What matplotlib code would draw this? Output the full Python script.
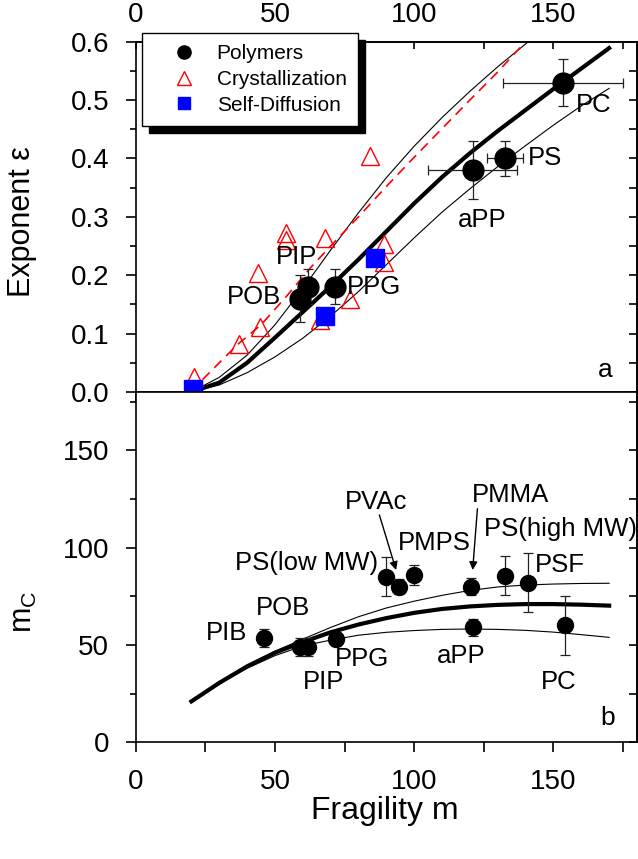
"""Fragility plot: exponent epsilon (a) and m_C (b) vs fragility m"""
import matplotlib
matplotlib.use("Agg")
import matplotlib.pyplot as plt
from matplotlib.lines import Line2D
from matplotlib.patches import Rectangle
from matplotlib.ticker import MultipleLocator, FormatStrFormatter, FixedLocator

plt.rcParams["font.family"] = ["Liberation Sans", "DejaVu Sans"]
plt.rcParams["mathtext.fontset"] = "custom"
plt.rcParams["mathtext.rm"] = "Liberation Sans"
plt.rcParams["mathtext.it"] = "Liberation Sans:italic"

# ---- panel a data
POLY_NAMES = ["POB", "PIP", "PPG", "aPP", "PS", "PC"]
POLY_M = [59, 62, 71.5, 121, 132.5, 153.5]
POLY_M_ERR = [0, 0, 0, 16, 6.5, 21.5]
POLY_EPS = [0.16, 0.18, 0.18, 0.38, 0.40, 0.53]
POLY_EPS_ERR = [0.04, 0.03, 0.03, 0.05, 0.03, 0.04]

CRYST_M = [21, 37, 44.5, 44, 54, 54, 68, 66, 77, 84, 89, 89]
CRYST_EPS = [0.025, 0.083, 0.111, 0.203, 0.272, 0.26, 0.263, 0.123, 0.16, 0.405, 0.254, 0.223]

DIFF_M = [20.5, 68, 86]
DIFF_EPS = [0.005, 0.13, 0.23]

FIT_M = [20, 30, 40, 50, 60, 70, 80, 90, 100, 110, 120, 130, 140, 150, 160, 170]
EPS_FIT = [0.0, 0.016, 0.05, 0.093, 0.137, 0.181, 0.227, 0.275, 0.323, 0.368,
           0.409, 0.447, 0.483, 0.519, 0.554, 0.589]
EPS_LOW = [0.0, 0.012, 0.033, 0.06, 0.092, 0.13, 0.172, 0.218, 0.264, 0.308,
           0.348, 0.386, 0.422, 0.457, 0.49, 0.52]
EPS_UP_M = [20, 30, 40, 50, 60, 70, 80, 90, 100, 110, 120, 130, 141]
EPS_UP = [0.0, 0.025, 0.063, 0.115, 0.177, 0.243, 0.307, 0.367, 0.421, 0.47,
          0.515, 0.557, 0.6]
CRYST_FIT_M = [20, 25, 30, 37, 45, 54, 63, 70, 80, 90, 100, 110, 120, 130, 138]
CRYST_FIT = [0.0, 0.026, 0.05, 0.083, 0.115, 0.163, 0.214, 0.25, 0.30, 0.352,
             0.402, 0.451, 0.50, 0.548, 0.59]

# ---- panel b data
MC_NAMES = ["PIB", "POB", "PIP", "PPG", "PS(low MW)", "PVAc", "PMPS", "PMMA",
            "aPP", "PS(high MW)", "PSF", "PC"]
MC_M = [46, 59, 62, 72, 90, 94.5, 100, 120.5, 121, 132.5, 141, 154]
MC_VAL = [53.5, 49, 49, 53, 85, 80, 86, 80, 59, 85.5, 82, 60]
MC_ERR = [4.5, 4.5, 4.5, 3.5, 10, 4, 5, 4.5, 4.5, 10, 15, 15]

MC_FIT = [21, 30.5, 39, 46, 51.5, 56.5, 60.5, 63.8, 66.5, 68.5, 69.8, 70.6,
          71, 71, 70.7, 70.2]
MC_UP = [21, 30.5, 39.5, 46.8, 53, 59, 64.5, 69, 72.5, 75.5, 78, 79.8, 80.8,
         81.3, 81.6, 81.7]
MC_LOW = [21, 30, 38, 44.5, 49.5, 52.5, 55, 56.5, 57.4, 58, 58.2, 58, 57.5,
          56.6, 55.3, 53.9]

# label positions (data coords)
A_LABEL_POS = [(42.4, 0.162), (57.8, 0.231), (85.4, 0.18), (124.4, 0.294),
               (147, 0.40), (164.6, 0.491)]
B_LABEL_POS = [(32.6, 56), (52.9, 68.8), (67.5, 31.1), (81.3, 42.8),
               (61.4, 91.9), (86.3, 123.5), (107.2, 102.2), (134.7, 127),
               (116.8, 44.5), (152.4, 109.5), (143.5, 91), (152, 31.1)]

LW_SPINE = 1.2
FS_TICK = 20
FS_TEXT = 18.5
FS_LABEL = 22

fig = plt.figure(figsize=(6.38, 8.59), dpi=100)
ax1 = fig.add_axes([0.2127, 0.5437, 0.7857, 0.4078])
ax2 = fig.add_axes([0.2127, 0.1359, 0.7857, 0.4078])

err_kw = dict(fmt="none", ecolor="#222222", elinewidth=0.9, capsize=3.6, capthick=0.9)

# ---------------- panel a
ax1.plot(FIT_M, EPS_FIT, color="k", lw=3.0, zorder=2)
ax1.plot(FIT_M, EPS_LOW, color="k", lw=0.8, zorder=2)
ax1.plot(EPS_UP_M, EPS_UP, color="k", lw=0.8, zorder=2)
ax1.plot(CRYST_FIT_M, CRYST_FIT, color="red", lw=1.2, dashes=(6, 4), zorder=2)

ax1.errorbar(POLY_M, POLY_EPS, yerr=POLY_EPS_ERR, xerr=POLY_M_ERR, zorder=3, **err_kw)
ax1.plot(CRYST_M, CRYST_EPS, "^", ms=13, mfc="none", mec="red", mew=1.0, zorder=3)
ax1.plot(DIFF_M, DIFF_EPS, "s", ms=13, color="#0000ff", mec="#0000ff", zorder=4)
ax1.plot(POLY_M, POLY_EPS, "o", ms=15, color="k", zorder=5)

for name, (x, y) in zip(POLY_NAMES, A_LABEL_POS):
    ax1.text(x, y, name, fontsize=FS_TEXT, ha="center", va="center")
ax1.text(168.5, 0.037, "a", fontsize=19, ha="center", va="center")

ax1.set_xlim(0, 180)
ax1.set_ylim(0, 0.6)
ax1.xaxis.set_major_locator(MultipleLocator(25))
ax1.tick_params(axis="x", which="both", bottom=True, top=False, labelbottom=False,
                direction="out", length=7, width=LW_SPINE)
ax1.yaxis.set_major_locator(MultipleLocator(0.1))
ax1.yaxis.set_minor_locator(MultipleLocator(0.05))
ax1.yaxis.set_major_formatter(FormatStrFormatter("%.1f"))
ax1.tick_params(axis="y", which="major", left=True, right=False, direction="out",
                length=7, width=LW_SPINE, labelsize=FS_TICK, pad=12)
ax1.tick_params(axis="y", which="minor", left=True, right=False, direction="out",
                length=4, width=LW_SPINE)

sec_r1 = ax1.secondary_yaxis("right")
sec_r1.yaxis.set_major_locator(FixedLocator([0.05 * i for i in range(13)]))
sec_r1.tick_params(direction="in", length=6, width=LW_SPINE, labelright=False)
sec_t1 = ax1.secondary_xaxis("top")
sec_t1.xaxis.set_major_locator(FixedLocator([0, 50, 100, 150]))
sec_t1.xaxis.set_minor_locator(FixedLocator([25, 75, 125, 175]))
sec_t1.tick_params(which="both", direction="in", length=5, width=LW_SPINE,
                   labelsize=FS_TICK, pad=10)

handles = [Line2D([], [], ls="none", marker="o", ms=9.5, color="k"),
           Line2D([], [], ls="none", marker="^", ms=10, mfc="none", mec="red"),
           Line2D([], [], ls="none", marker="s", ms=8, color="#0000ff")]
leg = ax1.legend(handles, ["Polymers", "Crystallization", "Self-Diffusion"],
                 loc="upper left", bbox_to_anchor=(0.012, 1.025), borderaxespad=0,
                 fontsize=15, frameon=True, fancybox=False, framealpha=1,
                 edgecolor="k", handletextpad=0.1, labelspacing=0.32,
                 borderpad=0.55, handlelength=2.95)
leg.get_frame().set_linewidth(1.0)
leg.set_zorder(10)

# ---------------- panel b
ax2.plot(FIT_M, MC_FIT, color="k", lw=3.0, zorder=2)
ax2.plot(FIT_M, MC_UP, color="k", lw=0.8, zorder=2)
ax2.plot(FIT_M, MC_LOW, color="k", lw=0.8, zorder=2)
ax2.errorbar(MC_M, MC_VAL, yerr=MC_ERR, zorder=3, **err_kw)
ax2.plot(MC_M, MC_VAL, "o", ms=11.5, color="k", zorder=4)

for name, (x, y) in zip(MC_NAMES, B_LABEL_POS):
    ax2.text(x, y, name, fontsize=FS_TEXT, ha="left" if name == "PSF" else "center",
             va="center")
ax2.text(169.3, 12.3, "b", fontsize=19, ha="center", va="center")

arrow_kw = dict(arrowstyle="-|>", color="k", lw=1.0, mutation_scale=12,
                shrinkA=0, shrinkB=0)
ax2.annotate("", xy=(93.5, 88.5), xytext=(87.5, 116.8), arrowprops=arrow_kw)
ax2.annotate("", xy=(121, 88.5), xytext=(122.7, 120), arrowprops=arrow_kw)

ax2.set_xlim(0, 180)
ax2.set_ylim(0, 180)
ax2.xaxis.set_major_locator(FixedLocator([0, 50, 100, 150]))
ax2.xaxis.set_minor_locator(FixedLocator([25, 75, 125, 175]))
ax2.tick_params(axis="x", which="both", bottom=True, top=False, direction="out",
                length=7, width=LW_SPINE, labelsize=FS_TICK, pad=12)
ax2.yaxis.set_major_locator(FixedLocator([0, 50, 100, 150]))
ax2.yaxis.set_minor_locator(FixedLocator([25, 75, 125, 175]))
ax2.tick_params(axis="y", which="major", left=True, right=False, direction="out",
                length=7, width=LW_SPINE, labelsize=FS_TICK, pad=12)
ax2.tick_params(axis="y", which="minor", left=True, right=False, direction="out",
                length=4, width=LW_SPINE)
sec_r2 = ax2.secondary_yaxis("right")
sec_r2.yaxis.set_major_locator(FixedLocator([25 * i for i in range(8)]))
sec_r2.tick_params(direction="in", length=6, width=LW_SPINE, labelright=False)

for ax in (ax1, ax2, sec_r1, sec_t1, sec_r2):
    for sp in ax.spines.values():
        sp.set_linewidth(LW_SPINE)

fig.text(22 / 638, 1 - 222 / 859, "Exponent ε", rotation=90, fontsize=FS_LABEL,
         ha="center", va="center")
fig.text(24 / 638, 1 - 612 / 859, r"m$_\mathrm{C}$", rotation=90, fontsize=FS_LABEL,
         ha="center", va="center")
fig.text(385 / 638, 1 - 811 / 859, "Fragility m", fontsize=23,
         ha="center", va="center")

# black drop shadow behind legend box
fig.canvas.draw()
renderer = fig.canvas.get_renderer()
bb = leg.get_window_extent(renderer).transformed(ax1.transAxes.inverted())
axbb = ax1.get_window_extent(renderer)
dx, dy = 7 / axbb.width, 7 / axbb.height
ax1.add_patch(Rectangle((bb.x0 + dx, bb.y0 - dy), bb.width, bb.height,
                        transform=ax1.transAxes, color="k", clip_on=False, zorder=9))

fig.savefig("out.png", dpi=100)
